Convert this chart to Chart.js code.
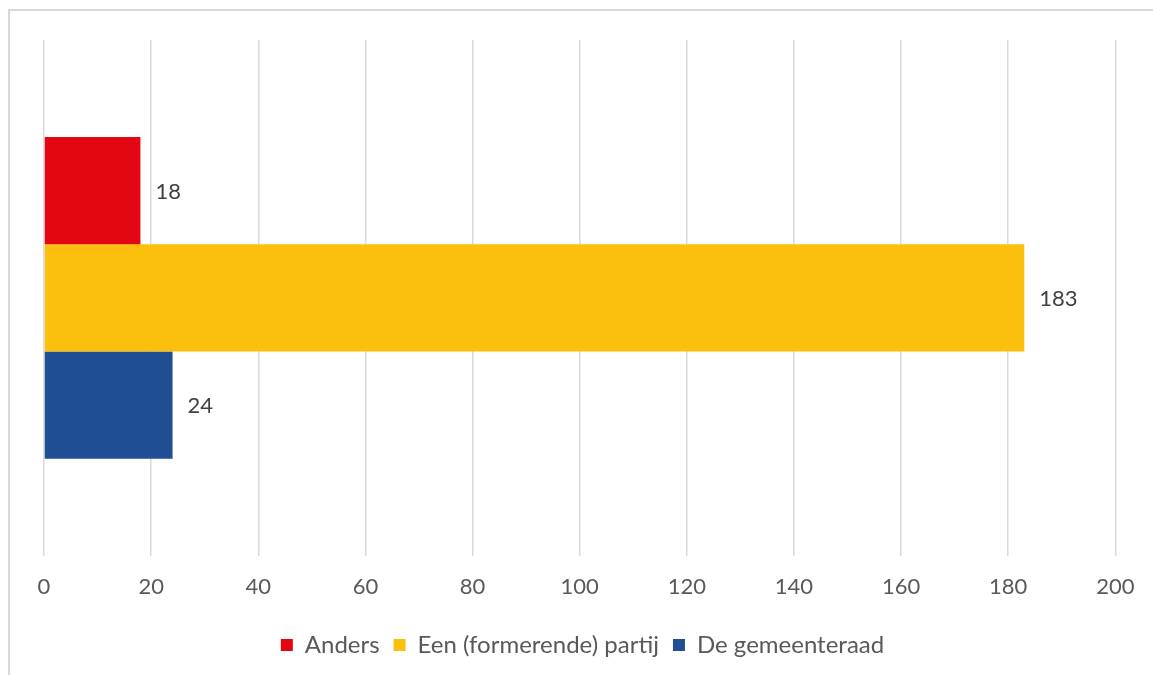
<!DOCTYPE html>
<html>
<head>
<meta charset="utf-8">
<script src="https://cdn.jsdelivr.net/npm/chart.js@4"></script>
<style>
  html, body { margin: 0; padding: 0; background: #fff; }
  #wrap { width: 1153px; height: 675px; position: relative; }
</style>
</head>
<body>
<div id="wrap"><canvas id="chart"></canvas></div>
<script>
// Gegevens
const categories = [''];
const seriesNames = ['Anders', 'Een (formerende) partij', 'De gemeenteraad'];
const andersValues = [18];
const partijValues = [183];
const raadValues = [24];
const seriesColors = ['#e30613', '#fbc00e', '#1f4e93'];

const FONT = 'Lato, "Open Sans", sans-serif';

// kader rond de grafiek (alleen links en boven zichtbaar)
const frame = {
    id: 'frame',
    beforeDraw(chart) {
        const ctx = chart.ctx;
        ctx.save();
        ctx.strokeStyle = '#d9d9d9';
        ctx.lineWidth = 2;
        ctx.strokeRect(9, 10, 1400, 900);
        ctx.restore();
    }
};

// waardelabels naast de balken
const valueLabels = {
    id: 'valueLabels',
    afterDatasetsDraw(chart) {
        const ctx = chart.ctx;
        ctx.save();
        ctx.font = '22px ' + FONT;
        ctx.fillStyle = '#404040';
        ctx.textAlign = 'left';
        ctx.textBaseline = 'middle';
        chart.data.datasets.forEach((ds, i) => {
            chart.getDatasetMeta(i).data.forEach((bar, j) => {
                ctx.fillText(ds.data[j], bar.x + 15, bar.y + 1);
            });
        });
        ctx.restore();
    }
};

new Chart(document.getElementById('chart'), {
    type: 'bar',
    data: {
        labels: categories,
        datasets: [
            { label: seriesNames[0], data: andersValues, backgroundColor: seriesColors[0] },
            { label: seriesNames[1], data: partijValues, backgroundColor: seriesColors[1] },
            { label: seriesNames[2], data: raadValues, backgroundColor: seriesColors[2] }
        ]
    },
    options: {
        indexAxis: 'y',
        responsive: true,
        maintainAspectRatio: false,
        animation: false,
        categoryPercentage: 0.624,
        barPercentage: 1,
        layout: { padding: { top: 40, left: 44, right: 32, bottom: 8 } },
        scales: {
            x: {
                min: 0,
                max: 200,
                ticks: {
                    stepSize: 20,
                    color: '#595959',
                    font: { family: FONT, size: 22 },
                    padding: 18.5
                },
                grid: { color: '#d9d9d9', lineWidth: 1.5, tickLength: 0, drawTicks: false },
                border: { display: false }
            },
            y: {
                display: false
            }
        },
        plugins: {
            legend: {
                position: 'bottom',
                labels: {
                    color: '#595959',
                    font: { family: FONT, size: 24 },
                    boxWidth: 12,
                    boxHeight: 12,
                    padding: 14
                }
            },
            tooltip: { enabled: false }
        }
    },
    plugins: [frame, valueLabels]
});
</script>
</body>
</html>
